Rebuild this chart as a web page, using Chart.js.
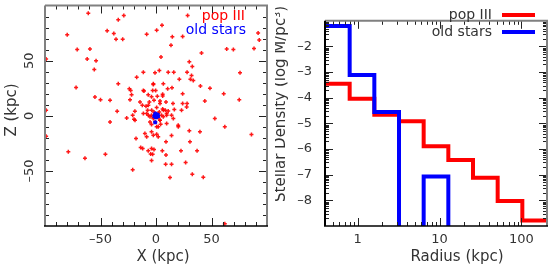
<!DOCTYPE html>
<html><head><meta charset="utf-8">
<script src="https://cdn.jsdelivr.net/npm/chart.js@4.4.1/dist/chart.umd.min.js"></script>
<style>
html,body{margin:0;padding:0;background:#fff;width:555px;height:265px;overflow:hidden}
canvas{position:absolute;top:0}
#c1{left:0}
#c2{left:275px}
</style></head><body>
<canvas id="c1" width="275" height="265"></canvas>
<canvas id="c2" width="280" height="265"></canvas>
<script>
// ---------- data ----------
const seriesNames = ['pop III', 'old stars'];
// left panel: X, Z positions in kpc
const popIIIPoints = [
[-61,93],[-29,91],[-34,87],[28.5,91],[5.4,82],[0.6,77.6],[-80,73.5],[-44,77],[-38,74.6],[-36,69.5],[-30,69.5],[-8.4,74],
[14.7,71.6],[24,71.9],[13.5,64],[92,75],[93,68.6],[-71,60],[-59.5,60.5],[63.7,60.5],[69.7,60.2],[88.3,61.1],[41,57],[4.5,53.3],
[-62,51.5],[-54,50],[-99,51.5],[30,49],[32.7,44.6],[-55.6,42],[75.7,39],[-11.4,39.5],[-0.9,39],[3,41],[11,39.5],[16,39.5],
[28,39.5],[-17.4,35],[32,36.5],[31,33],[33.6,32],[21,33],[-2.4,29],[6.6,29],[-34,29],[-72,25.7],[40,27],[48.6,25],[14.4,25.4],
[10.5,24.5],[-0.3,23],[-3,23],[-24,24.5],[-22.8,23],[-10.8,22.4],[24,20],[61,20],[75,14.6],[44,13.4],[-55,17],[-50,14.6],
[-41.4,14],[-22,19],[-23.4,14.6],[-7,19],[-4,17.3],[1.2,17.6],[6,18],[-1.8,14],[-6,12.5],[3.6,13.4],[9,12.5],[15.3,11],[24,11],
[28,11],[-14.4,12.5],[-12.3,9.5],[-35,4],[-9,8.6],[0.6,7.4],[6,6.2],[8.4,5],[11,4.4],[16.5,5.6],[23,5],[-19,4],[-11.4,2],[-7.5,5],
[-1.8,3.5],[3,3.5],[5,0.5],[-5.4,-1],[-4,0.5],[-7,0.5],[-2.4,-2.6],[2,-1.7],[3.6,-4],[6.6,-1],[9.6,0.5],[14,0.5],[-21,0.5],
[-26.4,-2],[-19.8,-3.2],[-41.4,-5.6],[53,-2.6],[15.6,-2.6],[-0.6,-5.6],[-4,-8],[4.2,-7.7],[9.6,-7],[2,-10],[20,-8.6],[62,-10],
[-10,-16],[-4,-14.6],[0.6,-16.7],[30,-13.7],[39.6,-14.6],[86,-17],[14,-18],[-18,-20.6],[30.6,-23.6],[-8.4,-19],[2,-19],[9,-23.6],
[-13.8,-28.7],[-12,-29.6],[-4,-29.6],[-1.8,-30.5],[-7,-31.7],[-4.8,-34.7],[-3,-35],[5.7,-31.7],[9,-35.6],[22.5,-31.7],[37,-31.7],
[-79,-32.6],[-64,-38.6],[-45.6,-35],[-4,-40.7],[8.7,-44],[14,-44],[26.7,-42.5],[32.7,-53],[42.6,-55.7],[12.6,-56],[-21,-49],
[62,-98],[-99,5],[-99,-18.5],
[-11.4,23],[-2.4,28.4],[6,19.4],[-6.9,9.5],[3.6,11],[-3.9,5],[-8.4,2],[6.6,5],[9.6,2],[3.6,-4],[-5.4,-5.6],[0.6,-10],
[-2.4,-17.6],[-18.9,-4],[20.1,-10],[27.6,8],[-1,1],[1,-1],[-2,-1.5],[2,2]
];
const oldStarPoints = [[0,1],[1,0],[-1,0.5],[0.5,-1],[1.5,1],[-0.5,2],[0,-1.5],[2,-0.5],[-1.5,-0.5],[-0.7,-6]];
const positionTicks = [-50, 0, 50];

// right panel: radial density profile
const radiusEdges = [0.4, 0.8, 1.6, 3.2, 6.4, 12.8, 25.6, 51.2, 102.4, 204.8];
const EMPTY = -20; // bin with no stars (log of zero, off the axis)
const popIIIDensity = [-3.45, -4.04, -4.66, -4.92, -5.89, -6.43, -7.12, -8.03, -8.79];
const oldStarDensity = [-1.2, -3.11, -4.56, EMPTY, -7.07, EMPTY, EMPTY, EMPTY, EMPTY];
const radiusTicks = [1, 10, 100];
const densityTicks = [-8, -7, -6, -5, -4, -3, -2];

// ---------- helpers ----------
const RED = '#ff0000', BLUE = '#0000ff', TXT = '#333';
const FONT = 'DejaVu Sans';
const fmt = v => (v < 0 ? '\u2013' + (-v) : String(v));
const steps = (vals) => radiusEdges.map((r, i) => ({x: r, y: vals[Math.min(i, vals.length - 1)]}));

function drawTicks(ctx, a, x, y, xs, ys) {
  ctx.strokeStyle = '#222';
  ctx.lineWidth = 1;
  ctx.beginPath();
  xs.forEach(([v, len]) => {
    const p = Math.round(x.getPixelForValue(v)) + 0.5;
    if (p <= a.left + 1 || p >= a.right - 1) return;
    ctx.moveTo(p, a.bottom); ctx.lineTo(p, a.bottom - len);
    ctx.moveTo(p, a.top); ctx.lineTo(p, a.top + len);
  });
  ys.forEach(([v, len]) => {
    const p = Math.round(y.getPixelForValue(v)) + 0.5;
    if (p <= a.top + 1 || p >= a.bottom - 1) return;
    ctx.moveTo(a.left, p); ctx.lineTo(a.left + len, p);
    ctx.moveTo(a.right, p); ctx.lineTo(a.right - len, p);
  });
  ctx.stroke();
}
function drawBox(ctx, a, leftColor) {
  ctx.lineWidth = 2;
  ctx.strokeStyle = '#808080';
  ctx.beginPath();
  ctx.moveTo(a.left, a.top); ctx.lineTo(a.right, a.top); ctx.lineTo(a.right, a.bottom);
  ctx.stroke();
  ctx.strokeStyle = leftColor;
  ctx.beginPath(); ctx.moveTo(a.left, a.top); ctx.lineTo(a.left, a.bottom); ctx.stroke();
  ctx.lineWidth = 1.5;
  ctx.strokeStyle = '#000';
  ctx.beginPath(); ctx.moveTo(a.left - 1, a.bottom); ctx.lineTo(a.right + 1, a.bottom); ctx.stroke();
}
function text(ctx, s, x, y, opt) {
  ctx.save();
  ctx.font = (opt.size || 15) + 'px "' + FONT + '"';
  ctx.fillStyle = opt.color || TXT;
  ctx.textAlign = opt.align || 'center';
  ctx.textBaseline = 'middle';
  ctx.translate(x, y);
  if (opt.rot) ctx.rotate(opt.rot);
  ctx.fillText(s, 0, 0);
  ctx.restore();
}

const common = {
  responsive: false, animation: false, events: [],
  plugins: {legend: {display: false}, tooltip: {enabled: false}},
  layout: {padding: {top: 5, right: 8, left: 0, bottom: 0}}
};
const tickFont = {family: FONT, size: 13};

// ---------- left panel ----------
const leftFrame = {
  id: 'leftFrame',
  afterDatasetsDraw(chart) {
    const {ctx, chartArea: a, scales: {x, y}} = chart;
    ctx.save();
    const t = [];
    for (let v = -90; v <= 90; v += 10) t.push([v, v % 50 === 0 ? 8 : 4]);
    drawTicks(ctx, a, x, y, t, t);
    drawBox(ctx, a, '#808080');
    ctx.restore();
  },
  afterDraw(chart) {
    const ctx = chart.ctx;
    const y = chart.scales.y;
    // rotated Z tick labels, placed through the y scale
    y.ticks.forEach(t => text(ctx, fmt(t.value), 30, y.getPixelForValue(t.value), {size: 13, rot: -Math.PI / 2}));
    text(ctx, 'X (kpc)', 163, 257, {});
    text(ctx, 'Z (kpc)', 12, 110, {rot: -Math.PI / 2});
    text(ctx, seriesNames[0], 245, 16, {size: 14, color: RED, align: 'right'});
    text(ctx, seriesNames[1], 246, 30, {size: 14, color: BLUE, align: 'right'});
  }
};

new Chart(document.getElementById('c1'), {
  type: 'scatter',
  data: {datasets: [
    {label: seriesNames[1], data: oldStarPoints.map(([x, y]) => ({x, y})), order: 1,
     pointStyle: 'rect', pointRadius: 2, backgroundColor: BLUE, borderColor: BLUE, borderWidth: 1},
    {label: seriesNames[0], data: popIIIPoints.map(([x, y]) => ({x, y})), order: 2,
     pointStyle: 'cross', pointRadius: 2, backgroundColor: RED, borderColor: 'rgba(255,0,0,0.9)', borderWidth: 1.5}
  ]},
  options: Object.assign({}, common, {
    scales: {
      x: {type: 'linear', min: -100, max: 100,
        afterBuildTicks: s => { s.ticks = positionTicks.map(v => ({value: v})); },
        afterFit: s => { s.height = 39; },
        grid: {display: false, drawTicks: false}, border: {display: false},
        ticks: {font: tickFont, color: TXT, padding: 6, maxRotation: 0, callback: fmt}},
      y: {type: 'linear', min: -100, max: 100,
        afterBuildTicks: s => { s.ticks = positionTicks.map(v => ({value: v})); },
        afterFit: s => { s.width = 45; },
        grid: {display: false, drawTicks: false}, border: {display: false},
        ticks: {display: false}}
    }
  }),
  plugins: [leftFrame]
});

// ---------- right panel ----------
const rightFrame = {
  id: 'rightFrame',
  afterDatasetsDraw(chart) {
    const {ctx, chartArea: a, scales: {x, y}} = chart;
    ctx.save();
    const xt = [];
    [0.1, 1, 10, 100].forEach(d => {
      for (let k = 1; k <= 9; k++) xt.push([k * d, k === 1 ? 8 : 4]);
    });
    const yt = [];
    for (let n = -8; n <= -1; n++) {
      if (n <= -2) yt.push([n, 8]);
      for (let k = 2; k <= 9; k++) yt.push([n - 1 + Math.log10(k), 4]);
    }
    drawTicks(ctx, a, x, y, xt, yt);
    drawBox(ctx, a, '#000');
    ctx.restore();
  },
  afterDraw(chart) {
    const ctx = chart.ctx;
    text(ctx, 'Radius (kpc)', 182, 257, {});
    text(ctx, 'Stellar Density (log M/pc\u00b3)', 6, 104, {rot: -Math.PI / 2});
    text(ctx, seriesNames[0], 217, 15, {size: 14, align: 'right'});
    text(ctx, seriesNames[1], 217, 32, {size: 14, align: 'right'});
    ctx.save();
    ctx.lineWidth = 4;
    ctx.strokeStyle = RED;
    ctx.beginPath(); ctx.moveTo(227, 15); ctx.lineTo(260, 15); ctx.stroke();
    ctx.strokeStyle = BLUE;
    ctx.beginPath(); ctx.moveTo(227, 32); ctx.lineTo(260, 32); ctx.stroke();
    ctx.restore();
  }
};

new Chart(document.getElementById('c2'), {
  type: 'line',
  data: {datasets: [
    {label: seriesNames[1], data: steps(oldStarDensity), stepped: 'before', borderColor: BLUE,
     borderWidth: 4, pointRadius: 0, fill: false, clip: 0, order: 1, borderJoinStyle: 'miter'},
    {label: seriesNames[0], data: steps(popIIIDensity), stepped: 'before', borderColor: RED,
     borderWidth: 4, pointRadius: 0, fill: false, clip: 0, order: 2, borderJoinStyle: 'miter'}
  ]},
  options: Object.assign({}, common, {
    scales: {
      x: {type: 'logarithmic', min: 0.4, max: 204.8,
        afterBuildTicks: s => { s.ticks = radiusTicks.map(v => ({value: v})); },
        afterFit: s => { s.height = 39; },
        grid: {display: false, drawTicks: false}, border: {display: false},
        ticks: {font: tickFont, color: TXT, padding: 6, maxRotation: 0, autoSkip: false, callback: v => String(v)}},
      y: {type: 'linear', min: -9, max: -1,
        afterBuildTicks: s => { s.ticks = densityTicks.map(v => ({value: v})); },
        afterFit: s => { s.width = 50; },
        grid: {display: false, drawTicks: false}, border: {display: false},
        ticks: {font: tickFont, color: TXT, padding: 13, callback: fmt}}
    }
  }),
  plugins: [rightFrame]
});
</script>
</body></html>
